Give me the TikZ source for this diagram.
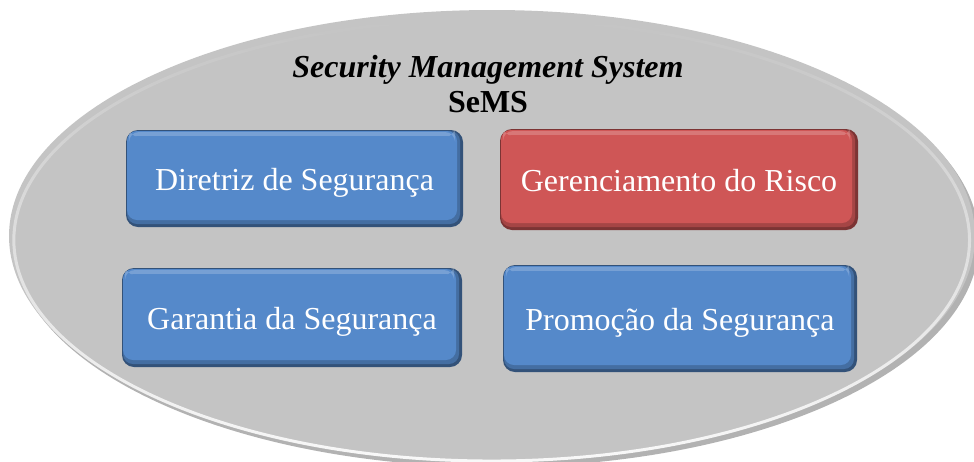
\documentclass[tikz,border=0pt]{standalone}
\usepackage{fontspec}
\setmainfont{Liberation Serif}
\usetikzlibrary{fadings}
\definecolor{sblue}{HTML}{5589CA}
\definecolor{sred}{HTML}{CF5656}
\definecolor{sgray}{HTML}{C4C4C4}
\tikzset{
  bevel/.style={rounded corners=12pt, fill=#1!60!black, text=white,
    font=\fontsize{32}{36}\selectfont, inner sep=0pt,
    text height=28pt, text depth=4pt,
    path picture={
      \fill[#1!80!black, rounded corners=10pt]
        ([shift={(1pt,-1pt)}]path picture bounding box.north west) rectangle
        ([shift={(-3pt,3pt)}]path picture bounding box.south east);
      \fill[#1, rounded corners=10pt]
        ([shift={(1pt,-1pt)}]path picture bounding box.north west) rectangle
        ([shift={(-6pt,7pt)}]path picture bounding box.south east);
      \fill[white, opacity=0.2, rounded corners=10pt]
        ([shift={(3pt,-2pt)}]path picture bounding box.north west) rectangle
        ([shift={(-8pt,-7pt)}]path picture bounding box.north east);
      \fill[#1, rounded corners=8pt]
        ([shift={(4pt,-6pt)}]path picture bounding box.north west) rectangle
        ([shift={(-8pt,9pt)}]path picture bounding box.south east);
    }},
  titletext/.style={font=\fontsize{32}{35}\selectfont\bfseries, align=center, text=black}
}
\begin{document}
\begin{tikzpicture}[x=1pt,y=-1pt]
\useasboundingbox (0,0) rectangle (974,461);
% ellipse with shadow and rim
\fill[black!30] (496,241) ellipse [x radius=483, y radius=226];
\fill[sgray] (492,236) ellipse [x radius=483, y radius=226];
\draw[white, line width=3pt, path fading=north, opacity=0.9] (492,240) ellipse [x radius=478, y radius=221];
% title
\node[titletext] (title) at (488,84) {\textit{Security Management System}\\SeMS};
% boxes
\node[bevel=sblue, minimum width=337pt, minimum height=97pt] (dir) at (294.5,178.5) {Diretriz de Segurança};
\node[bevel=sred, minimum width=358pt, minimum height=101pt] (ger) at (679,179.5) {Gerenciamento do Risco};
\node[bevel=sblue, minimum width=340pt, minimum height=99pt] (gar) at (292,317.5) {Garantia da Segurança};
\node[bevel=sblue, minimum width=354pt, minimum height=107pt] (pro) at (680,318.5) {Promoção da Segurança};
\end{tikzpicture}
\end{document}
